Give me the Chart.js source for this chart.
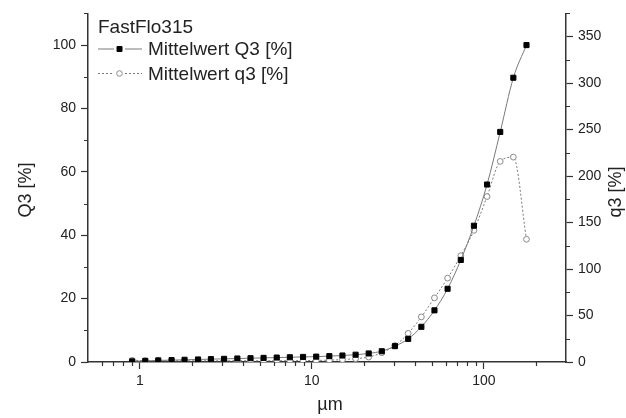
<!DOCTYPE html>
<html>
<head>
<meta charset="utf-8">
<script src="https://cdn.jsdelivr.net/npm/chart.js@4.4.0/dist/chart.umd.min.js"></script>
<style>
  html, body { margin: 0; padding: 0; background: #fff; }
  canvas { display: block; }
</style>
</head>
<body>
<canvas id="chart" width="626" height="418"></canvas>
<script>
// Partikelgröße (µm) und Messwerte
const groessen = [0.903, 1.076, 1.28, 1.53, 1.82, 2.18, 2.59, 3.09, 3.69, 4.40, 5.24,
  6.25, 7.45, 8.89, 10.6, 12.64, 15.06, 17.96, 21.4, 25.5, 30.4, 36.3, 43.3, 51.6,
  61.5, 73.4, 87.5, 104.3, 124.4, 148.3, 176.8];
const summeQ3 = [0.2, 0.35, 0.5, 0.6, 0.7, 0.8, 0.9, 1.0, 1.1, 1.2, 1.3, 1.4, 1.5,
  1.6, 1.7, 1.85, 2.05, 2.3, 2.7, 3.4, 5.0, 7.3, 11.1, 16.3, 23.1, 32.2, 43.0, 56.0,
  72.6, 89.7, 100];
const dichteQ3 = [1.8, 1.5, 1.4, 1.4, 1.3, 1.3, 1.3, 1.3, 1.3, 1.3, 1.3, 1.4, 1.4,
  1.5, 1.7, 2.0, 2.6, 3.6, 5.3, 10.0, 17.7, 30.8, 48.5, 69.0, 90.2, 114.3, 141.6,
  178.0, 215.8, 220.4, 132.0];

// Achsenbeschriftung
const xTicks = [1, 10, 100];
const xMinor = [0.6, 0.7, 0.8, 0.9, 2, 3, 4, 5, 6, 7, 8, 9, 20, 30, 40, 50, 60, 70, 80, 90, 200];
const qTicks = [0, 20, 40, 60, 80, 100];
const qMinor = [10, 30, 50, 70, 90, 110];
const q3Ticks = [0, 50, 100, 150, 200, 250, 300, 350];
const q3Minor = [25, 75, 125, 175, 225, 275, 325, 375];

const achse = '#333';
const linie = '#7a7a7a';
const schrift = 'Liberation Sans, Arial, sans-serif';

// Legende, Achsentitel und Nebenstriche
const beschriftung = {
  id: 'beschriftung',
  afterDraw(chart) {
    const { ctx, chartArea, scales } = chart;
    ctx.save();
    ctx.strokeStyle = achse;
    ctx.lineWidth = 1.2;
    ctx.beginPath();
    qMinor.forEach(v => {
      const y = Math.round(scales.y.getPixelForValue(v)) + 0.5;
      ctx.moveTo(chartArea.left, y); ctx.lineTo(chartArea.left - 4, y);
    });
    q3Minor.forEach(v => {
      const y = Math.round(scales.y2.getPixelForValue(v)) + 0.5;
      ctx.moveTo(chartArea.right, y); ctx.lineTo(chartArea.right + 4, y);
    });
    xMinor.forEach(v => {
      const x = Math.round(scales.x.getPixelForValue(v)) + 0.5;
      ctx.moveTo(x, chartArea.bottom); ctx.lineTo(x, chartArea.bottom + 4);
    });
    ctx.stroke();

    // Achsentitel
    ctx.fillStyle = '#222';
    ctx.font = '18px ' + schrift;
    ctx.textAlign = 'center';
    ctx.textBaseline = 'middle';
    ctx.fillText('µm', (chartArea.left + chartArea.right) / 2 + 3, 405);
    ctx.save();
    ctx.translate(26, 190);
    ctx.rotate(-Math.PI / 2);
    ctx.fillText('Q3 [%]', 0, 0);
    ctx.restore();
    ctx.save();
    ctx.translate(616, 192);
    ctx.rotate(-Math.PI / 2);
    ctx.fillText('q3 [%]', 0, 0);
    ctx.restore();

    // Legende
    ctx.textAlign = 'left';
    ctx.font = '19px ' + schrift;
    ctx.fillText('FastFlo315', 98, 28);
    chart.data.datasets.forEach((ds, i) => {
      const y = 49 + i * 24.5;
      ctx.strokeStyle = ds.borderColor;
      ctx.lineWidth = 1;
      ctx.setLineDash(ds.borderDash || []);
      ctx.beginPath();
      ctx.moveTo(98, y); ctx.lineTo(114, y);
      ctx.moveTo(125, y); ctx.lineTo(142, y);
      ctx.stroke();
      ctx.setLineDash([]);
      ctx.fillStyle = ds.pointBackgroundColor;
      ctx.strokeStyle = ds.pointBorderColor;
      ctx.beginPath();
      if (ds.pointStyle === 'rect') {
        ctx.rect(117, y - 2.5, 5, 5);
      } else {
        ctx.arc(119.5, y, 2.8, 0, Math.PI * 2);
      }
      ctx.fill(); ctx.stroke();
      ctx.fillStyle = '#222';
      ctx.fillText(ds.label, 148, y + 1);
    });
    ctx.restore();
  }
};

const ctx = document.getElementById('chart').getContext('2d');
new Chart(ctx, {
  type: 'scatter',
  data: {
    datasets: [{
      label: 'Mittelwert Q3 [%]',
      data: groessen.map((g, i) => ({ x: g, y: summeQ3[i] })),
      yAxisID: 'y',
      showLine: true,
      borderColor: linie,
      borderWidth: 1,
      cubicInterpolationMode: 'monotone',
      pointStyle: 'rect',
      pointRadius: 3.6,
      pointBackgroundColor: '#000',
      pointBorderColor: '#000',
      pointBorderWidth: 1
    }, {
      label: 'Mittelwert q3 [%]',
      data: groessen.map((g, i) => ({ x: g, y: dichteQ3[i] })),
      yAxisID: 'y2',
      showLine: true,
      borderColor: linie,
      borderWidth: 1,
      borderDash: [2, 2],
      cubicInterpolationMode: 'monotone',
      pointStyle: 'circle',
      pointRadius: 2.9,
      pointBackgroundColor: '#fff',
      pointBorderColor: '#888',
      pointBorderWidth: 1
    }]
  },
  options: {
    responsive: false,
    animation: false,
    devicePixelRatio: 1,
    layout: { padding: { top: 8, left: 0, right: 0, bottom: 0 } },
    plugins: {
      legend: { display: false },
      tooltip: { enabled: false }
    },
    scales: {
      x: {
        type: 'logarithmic',
        min: 0.5,
        max: 300,
        afterBuildTicks: s => { s.ticks = xTicks.map(v => ({ value: v })); },
        afterFit: s => { s.height = 56; },
        grid: { drawOnChartArea: false, tickLength: 7, tickColor: achse, tickWidth: 1.2 },
        border: { color: achse, width: 1.5 },
        ticks: {
          color: '#222', padding: 4, maxRotation: 0,
          font: { family: schrift, size: 14 },
          callback: v => String(v)
        }
      },
      y: {
        position: 'left',
        min: 0,
        max: 110,
        afterBuildTicks: s => { s.ticks = qTicks.map(v => ({ value: v })); },
        afterFit: s => { s.width = 88; },
        grid: { drawOnChartArea: false, tickLength: 7, tickColor: achse, tickWidth: 1.2 },
        border: { color: achse, width: 1.5 },
        ticks: { color: '#222', padding: 5, font: { family: schrift, size: 14 } }
      },
      y2: {
        position: 'right',
        min: 0,
        max: 375,
        afterBuildTicks: s => { s.ticks = q3Ticks.map(v => ({ value: v })); },
        afterFit: s => { s.width = 60; },
        grid: { drawOnChartArea: false, tickLength: 7, tickColor: achse, tickWidth: 1.2 },
        border: { color: achse, width: 1.5 },
        ticks: { color: '#222', padding: 5, font: { family: schrift, size: 14 } }
      }
    }
  },
  plugins: [beschriftung]
});
</script>
</body>
</html>
